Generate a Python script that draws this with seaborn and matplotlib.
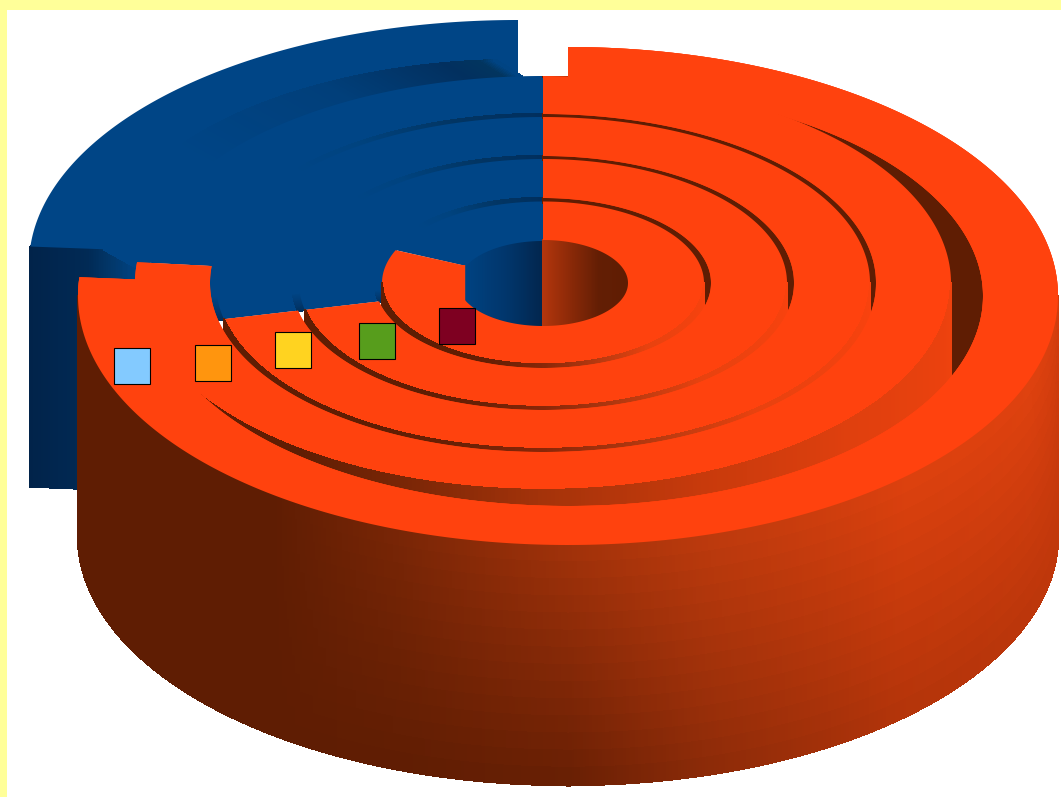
import numpy as np
import matplotlib
matplotlib.use("Agg")
import matplotlib.pyplot as plt
from matplotlib.collections import PolyCollection
from matplotlib.colors import to_rgb
from matplotlib.patches import Rectangle
import seaborn as sns

# ---- data: share of each ring (inner to outer), percent
rings = ["ring 1", "ring 2", "ring 3", "ring 4", "ring 5"]
orange_share = [81.6, 71.5, 71.5, 76.6, 76.2]
blue_share = [18.4, 28.5, 28.5, 23.4, 23.8]
key_colors = ["#7e0021", "#579d1c", "#ffd320", "#ff950e", "#83caff"]

ORANGE, BLUE = "#ff420e", "#004586"
DARK = "#5f1d03"
H = 240

sns.set_theme(style="white")
fig = plt.figure(figsize=(10.61, 7.97), dpi=100, facecolor="#ffff99")
ax = fig.add_axes([7 / 1061, 0, 1 - 7 / 1061, 1 - 10 / 797], facecolor="white")
ax.set_xlim(7, 1061)
ax.set_ylim(797, 10)
ax.set_xticks([])
ax.set_yticks([])
sns.despine(ax=ax, left=True, bottom=True, right=True, top=True)

# ---- ring geometry in pixels
in_rx = [85, 168, 251, 333, 415]
in_ry = [43, 85, 127, 169, 210]
out_rx = [161, 244, 327, 408, 490]
out_ry = [81.5, 124, 166, 207, 249]
base = (543, 283)
centre_orange = [base, base, base, base, (568, 296)]
centre_blue = [base, base, base, base, (518, 265)]
in_ry_blue = [43, 85, 127, 169, 205]
out_rx_blue = [161, 244, 327, 408, 489]
out_ry_blue = [81.5, 124, 166, 207, 245]


def pt(c, rx, ry, t):
    a = np.radians(t)
    return c[0] + rx * np.sin(a), c[1] - ry * np.cos(a)


def annulus(c, rxi, ryi, rxo, ryo, t0, t1, color, z):
    t = np.linspace(t0, t1, 400)
    xo, yo = pt(c, rxo, ryo, t)
    xi, yi = pt(c, rxi, ryi, t[::-1])
    ax.fill(np.r_[xo, xi], np.r_[yo, yi], color=color, lw=0, zorder=z)


def ramp(stops, t):
    ts, cs = zip(*stops)
    rgb = np.array([to_rgb(c) for c in cs])
    return np.column_stack([np.interp(t, ts, rgb[:, i]) for i in range(3)])


def quads(verts, colors, z):
    pc = PolyCollection(verts, facecolors=colors, edgecolors=colors, linewidths=1.0,
                        antialiaseds=False, zorder=z)
    ax.add_collection(pc)


top_wall = [(90, "#d23c0d"), (110, "#e0420f"), (137, "#dd410e"), (164, "#bd3a0d"),
            (180, "#a2320a"), (200, "#7a2606"), (217, DARK), (280, DARK)]
bottom_wall = [(90, "#c2380b"), (110, "#bb360b"), (137, "#b3340a"), (164, "#8a2a08"),
               (180, "#671f04"), (200, DARK), (280, DARK)]
wall_ring4 = [(90, "#f0420e"), (131, "#e0400e"), (157, "#c83a0c"), (180, "#a5330a"),
              (200, "#7a2606"), (217, DARK), (280, DARK)]
wall_thin = [(90, "#fb420e"), (140, "#e8420f"), (160, "#b83a10"), (180, "#8a2708"),
             (195, "#6a2005"), (210, DARK), (280, DARK)]
blue_wall = [(255, "#01294f"), (261, "#01396f"), (266, BLUE), (312, BLUE), (326, "#00437f"),
             (345, "#023563"), (360, "#012f5e")]
blue_wall_outer = [(270, BLUE), (305, BLUE), (332, "#013f7a"), (350, "#02305f"),
                   (355, "#02355f"), (357, BLUE)]
hole_blue = [(458, BLUE), (510, "#01356a"), (543, "#02264e")]
hole_orange = [(543, "#b5360c"), (570, "#8d2a08"), (600, "#631e04"), (628, DARK)]


def band(c_a, rxa, rya, c_b, rxb, ryb, t0, t1, stops, z):
    t = np.linspace(t0, t1, 260)
    xa, ya = pt(c_a, rxa, rya, t)
    xb, yb = pt(c_b, rxb, ryb, t)
    cols = ramp(stops, (t[:-1] + t[1:]) / 2)
    v = [[(xa[i], ya[i]), (xa[i + 1], ya[i + 1]), (xb[i + 1], yb[i + 1]), (xb[i], yb[i])]
         for i in range(len(t) - 1)]
    quads(v, cols, z)


def wall(c, rx, ry, t0, t1, rows, top_stops, z):
    t = np.linspace(t0, t1, 500 if rows > 1 else 300)
    x, y = pt(c, rx, ry, t)
    tm = (t[:-1] + t[1:]) / 2
    top, bottom = ramp(top_stops, tm), ramp(bottom_wall, tm)
    v, cols = [], []
    for j in range(rows):
        d0, d1 = H * j / rows, H * (j + 1) / rows
        f = (j + 0.5) / rows if rows > 1 else 0
        for i in range(len(tm)):
            v.append([(x[i], y[i] + d0), (x[i + 1], y[i + 1] + d0),
                      (x[i + 1], y[i + 1] + d1), (x[i], y[i] + d1)])
            cols.append(top[i] * (1 - f) + bottom[i] * f)
    quads(v, np.array(cols), z)


def hole(x0, x1, stops, z):
    c = base
    x = np.linspace(x0, x1, 90)
    h = in_ry[0] * np.sqrt(np.clip(1 - ((x - c[0]) / in_rx[0]) ** 2, 0, 1))
    cols = ramp(stops, (x[:-1] + x[1:]) / 2)
    v = [[(x[i], c[1] - h[i]), (x[i + 1], c[1] - h[i + 1]),
          (x[i + 1], c[1] + h[i + 1]), (x[i], c[1] + h[i])] for i in range(len(x) - 1)]
    quads(v, cols, z)


z = 1
# ---- blue series, outermost first
start_blue = [360 - 3.6 * s for s in blue_share]
c5 = centre_blue[4]
t_cut = start_blue[4]
xo, yo = pt(c5, out_rx_blue[4], out_ry_blue[4], t_cut)
xi, yi = pt(c5, in_rx[4], in_ry_blue[4], t_cut)
fr = np.linspace(0, 1.6, 70)
xs, ys = xo + (xi - xo) * fr, yo + (yi - yo) * fr
cut_cols = ramp([(0, "#01234a"), (0.8, "#012a55"), (1.1, "#023769"), (1.5, BLUE), (1.6, BLUE)],
                (fr[:-1] + fr[1:]) / 2)
quads([[(xs[i], ys[i]), (xs[i + 1], ys[i + 1]), (xs[i + 1], ys[i + 1] + H), (xs[i], ys[i] + H)]
       for i in range(len(fr) - 1)], cut_cols, z)
z += 1
hole(458, 543, hole_blue, z)
z += 1
# the outer blue ring is laid wide so the notch corner under it stays filled
annulus(centre_blue[4], 375, 189, out_rx_blue[4], out_ry_blue[4], start_blue[4], 360, BLUE, z)
z += 1
for k in range(4, -1, -1):
    if k < 4:
        annulus(centre_blue[k], in_rx[k] - 1, in_ry[k] - 1, out_rx_blue[k], out_ry_blue[k],
                start_blue[k], 360, BLUE, z)
        z += 1
    if k > 0:
        stops = blue_wall_outer if k == 4 else blue_wall
        t0 = min(start_blue[k], start_blue[k - 1])
        band(centre_blue[k], in_rx[k], in_ry_blue[k], centre_blue[k - 1], out_rx_blue[k - 1], out_ry_blue[k - 1],
             t0, 357 if k == 4 else 360, stops, z)
        z += 1

# ---- orange series, innermost first so every wall is hidden by the next ring
end_orange = [3.6 * s for s in orange_share]
hole(543, 628, hole_orange, z)
z += 1
for k in range(5):
    c = centre_orange[k]
    if k < 4:
        band(centre_orange[k + 1], in_rx[k + 1], in_ry[k + 1], c, out_rx[k] - 2, out_ry[k] - 1, 0, 140,
             [(0, DARK), (140, DARK)], z)
        z += 1
    annulus(c, in_rx[k], in_ry[k], out_rx[k], out_ry[k], 0, end_orange[k], ORANGE, z)
    z += 1
    stops = top_wall if k == 4 else wall_ring4 if k == 3 else wall_thin
    wall(c, out_rx[k], out_ry[k], 90, min(270, end_orange[k]), 14 if k == 4 else 1, stops, z)
    z += 1
    if k < 4:
        annulus(centre_orange[k + 1], in_rx[k + 1], in_ry[k + 1], out_rx[k + 1], out_ry[k + 1],
                0, end_orange[k + 1], ORANGE, z)
        z += 1

annulus(centre_orange[4], in_rx[4], in_ry[4], out_rx[4], out_ry[4], 0, end_orange[4], ORANGE, z)
z += 1

# the inner ring ends square against the hole
t_in = np.linspace(235, end_orange[0], 120)
edge = pt(base, in_rx[0], in_ry[0], end_orange[0])[0]
xi, yi = pt(base, in_rx[0] + 3, in_ry[0] + 1.5, t_in)
ax.fill(np.r_[xi, np.maximum(xi, edge)[::-1]], np.r_[yi, yi[::-1]], color=ORANGE, lw=0, zorder=z)
z += 1

# ---- value keys, one per ring
key_t = [225.5, 235.5, 242.2, 244.5, 252.4]
key_r = [0.753, 0.8255, 0.8645, 0.896, 0.934]
for k, col in enumerate(key_colors):
    mx, my = pt(centre_orange[k], out_rx[k] * key_r[k], out_ry[k] * key_r[k], key_t[k])
    ax.add_patch(Rectangle((mx - 18, my - 18), 36, 36, facecolor=col, edgecolor="black", lw=0.8, zorder=z))

fig.savefig("out.png", dpi=100, facecolor=fig.get_facecolor())
